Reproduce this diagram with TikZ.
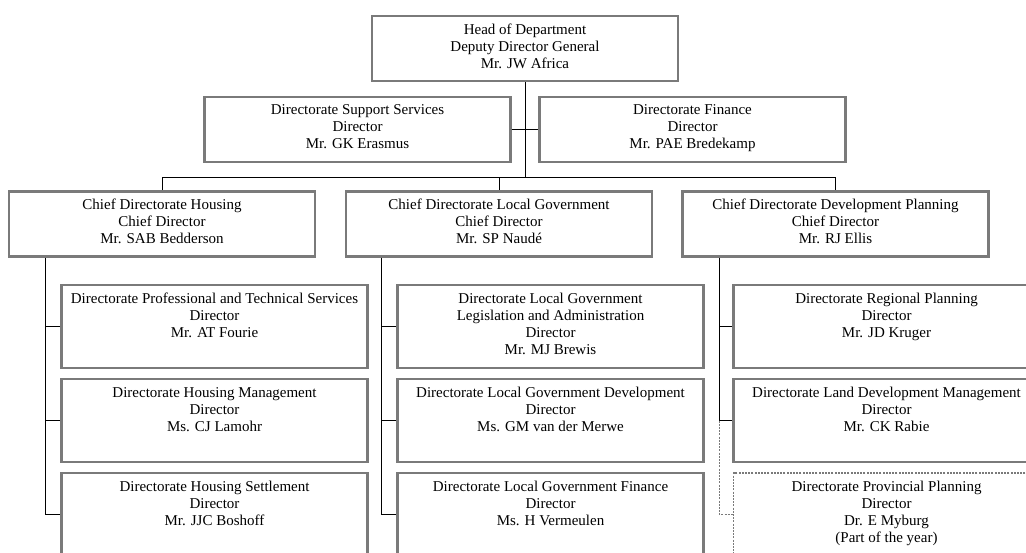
\documentclass[tikz,border=0pt]{standalone}
\usepackage{fontspec}
\setmainfont{Liberation Serif}
\usepackage{tikz}
\usetikzlibrary{calc}
\definecolor{boxgray}{RGB}{122,122,122}
\tikzset{
	orgbox/.style={draw=boxgray,line width=2.2pt,align=center,inner sep=0pt,
		font=\fontsize{15}{17}\selectfont,
		execute at begin node=\rule{0pt}{14pt},execute at end node=\strut},
	topbox/.style={orgbox,minimum width=306pt,minimum height=65pt},
	dirbox/.style={orgbox,minimum width=306pt,minimum height=83pt},
	partbox/.style={dirbox,draw=boxgray,line width=1.3pt,dash pattern=on 2pt off 1.2pt},
	link/.style={draw=black,line width=1pt}
}
\begin{document}
\begin{tikzpicture}[x=1pt,y=-1pt]
			\useasboundingbox (0,0) rectangle (1026,552);
			\clip (0,0) rectangle (1026,552);
			\node [topbox] (head) at (525,48.5) {Head of Department\\Deputy Director General\\Mr. JW Africa};
			\node [topbox] (support) at (357.5,129.5) {Directorate Support Services\\Director\\Mr. GK Erasmus};
			\node [topbox] (finance) at (692.5,129.5) {Directorate Finance\\Director\\Mr. PAE Bredekamp};
			\node [topbox] (chiefH) at (162,224) {Chief Directorate Housing\\Chief Director\\Mr. SAB Bedderson};
			\node [topbox] (chiefLG) at (499,224) {Chief Directorate Local Government\\Chief Director\\Mr. SP Naudé};
			\node [topbox] (chiefDP) at (835.5,224) {Chief Directorate Development Planning\\Chief Director\\Mr. RJ Ellis};
			\node [dirbox] (h1) at (214.5,326.5) {Directorate Professional and Technical Services\\Director\\Mr. AT Fourie\\\mbox{}};
			\node [dirbox] (h2) at (214.5,420.5) {Directorate Housing Management\\Director\\Ms. CJ Lamohr\\\mbox{}};
			\node [dirbox] (h3) at (214.5,514.5) {Directorate Housing Settlement\\Director\\Mr. JJC Boshoff\\\mbox{}};
			\node [dirbox] (lg1) at (550.5,326.5) {Directorate Local Government\\Legislation and Administration\\Director\\Mr. MJ Brewis};
			\node [dirbox] (lg2) at (550.5,420.5) {Directorate Local Government Development\\Director\\Ms. GM van der Merwe\\\mbox{}};
			\node [dirbox] (lg3) at (550.5,514.5) {Directorate Local Government Finance\\Director\\Ms. H Vermeulen\\\mbox{}};
			\node [dirbox] (dp1) at (886.5,326.5) {Directorate Regional Planning\\Director\\Mr. JD Kruger\\\mbox{}};
			\node [dirbox] (dp2) at (886.5,420.5) {Directorate Land Development Management\\Director\\Mr. CK Rabie\\\mbox{}};
			\node [partbox] (dp3) at (886.5,514.5) {Directorate Provincial Planning\\Director\\Dr. E Myburg\\(Part of the year)};
			\coordinate (bus) at (0,177);
			\draw [link] (head.south) -- (head.south |- bus);
			\draw [link] (support.east) -- (finance.west);
			\draw [link] (chiefH.north |- bus) -- (chiefDP.north |- bus);
			\foreach \c in {chiefH,chiefLG,chiefDP}
				\draw [link] (\c.north |- bus) -- (\c.north);
			\coordinate (tH) at ([xshift=38pt]chiefH.south west);
			\coordinate (tLG) at ([xshift=37pt]chiefLG.south west);
			\coordinate (tDP) at ([xshift=38pt]chiefDP.south west);
			\draw [link] (tH) |- (h3.west);
			\draw [link] (tH |- h1.west) -- (h1.west);
			\draw [link] (tH |- h2.west) -- (h2.west);
			\draw [link] (tLG) |- (lg3.west);
			\draw [link] (tLG |- lg1.west) -- (lg1.west);
			\draw [link] (tLG |- lg2.west) -- (lg2.west);
			\draw [link] (tDP) |- (dp2.west);
			\draw [link] (tDP |- dp1.west) -- (dp1.west);
			\draw [link,draw=boxgray,dash pattern=on 2pt off 1.2pt] (tDP |- dp2.west) |- (dp3.west);
			\end{tikzpicture}
\end{document}
